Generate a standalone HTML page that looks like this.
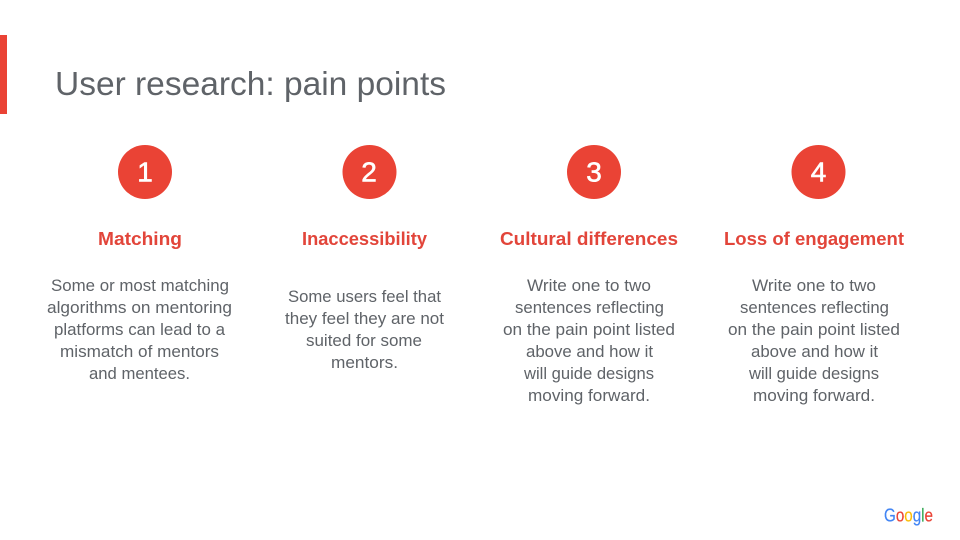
<!DOCTYPE html>
<html>
<head>
<meta charset="utf-8">
<style>
html,body{margin:0;padding:0;background:#fff;width:960px;height:540px;overflow:hidden}
svg{display:block}
text{font-family:"Liberation Sans",sans-serif}
.b{font-size:16.5px;fill:#5f6368}
.h{font-size:18.5px;font-weight:bold;fill:#e2453a}
.n{font-size:28px;fill:#fff;stroke:#fff;stroke-width:.6px;text-anchor:middle}
</style>
</head>
<body>
<svg width="960" height="540" viewBox="0 0 960 540" xmlns="http://www.w3.org/2000/svg">
<rect width="960" height="540" fill="#fff"/>
<rect x="0" y="35" width="7" height="79" fill="#ea4335"/>
<text x="55" y="95" font-size="33.5" fill="#5f6368" textLength="391" lengthAdjust="spacingAndGlyphs">User research: pain points</text>

<circle cx="145" cy="172" r="27" fill="#ea4335"/>
<circle cx="369.5" cy="172" r="27" fill="#ea4335"/>
<circle cx="594" cy="172" r="27" fill="#ea4335"/>
<circle cx="818.5" cy="172" r="27" fill="#ea4335"/>
<text class="n" x="145" y="181.5">1</text>
<text class="n" x="369" y="181.5">2</text>
<text class="n" x="594" y="181.5">3</text>
<text class="n" x="818.5" y="181.5">4</text>

<text class="h" x="98" y="245" textLength="84" lengthAdjust="spacingAndGlyphs">Matching</text>
<text class="h" x="302" y="245" textLength="125" lengthAdjust="spacingAndGlyphs">Inaccessibility</text>
<text class="h" x="500" y="245" textLength="178" lengthAdjust="spacingAndGlyphs">Cultural differences</text>
<text class="h" x="724" y="245" textLength="180" lengthAdjust="spacingAndGlyphs">Loss of engagement</text>

<text class="b" x="51" y="291" textLength="178" lengthAdjust="spacingAndGlyphs">Some or most matching</text>
<text class="b" x="47" y="313" textLength="185" lengthAdjust="spacingAndGlyphs">algorithms on mentoring</text>
<text class="b" x="54" y="335" textLength="171" lengthAdjust="spacingAndGlyphs">platforms can lead to a</text>
<text class="b" x="60" y="357" textLength="159" lengthAdjust="spacingAndGlyphs">mismatch of mentors</text>
<text class="b" x="89" y="379" textLength="101" lengthAdjust="spacingAndGlyphs">and mentees.</text>

<text class="b" x="288" y="302" textLength="153" lengthAdjust="spacingAndGlyphs">Some users feel that</text>
<text class="b" x="285" y="324" textLength="159" lengthAdjust="spacingAndGlyphs">they feel they are not</text>
<text class="b" x="306" y="346" textLength="116" lengthAdjust="spacingAndGlyphs">suited for some</text>
<text class="b" x="331" y="368" textLength="67" lengthAdjust="spacingAndGlyphs">mentors.</text>

<text class="b" x="527" y="291" textLength="124" lengthAdjust="spacingAndGlyphs">Write one to two</text>
<text class="b" x="515" y="313" textLength="149" lengthAdjust="spacingAndGlyphs">sentences reflecting</text>
<text class="b" x="503" y="335" textLength="172" lengthAdjust="spacingAndGlyphs">on the pain point listed</text>
<text class="b" x="526" y="357" textLength="127" lengthAdjust="spacingAndGlyphs">above and how it</text>
<text class="b" x="524" y="379" textLength="130" lengthAdjust="spacingAndGlyphs">will guide designs</text>
<text class="b" x="528" y="401" textLength="122" lengthAdjust="spacingAndGlyphs">moving forward.</text>

<text class="b" x="752" y="291" textLength="124" lengthAdjust="spacingAndGlyphs">Write one to two</text>
<text class="b" x="740" y="313" textLength="149" lengthAdjust="spacingAndGlyphs">sentences reflecting</text>
<text class="b" x="728" y="335" textLength="172" lengthAdjust="spacingAndGlyphs">on the pain point listed</text>
<text class="b" x="751" y="357" textLength="127" lengthAdjust="spacingAndGlyphs">above and how it</text>
<text class="b" x="749" y="379" textLength="130" lengthAdjust="spacingAndGlyphs">will guide designs</text>
<text class="b" x="753" y="401" textLength="122" lengthAdjust="spacingAndGlyphs">moving forward.</text>

<text x="884" y="521.5" font-size="18" stroke-width=".2" textLength="49" lengthAdjust="spacingAndGlyphs"><tspan fill="#4285f4" stroke="#4285f4">G</tspan><tspan fill="#ea4335" stroke="#ea4335">o</tspan><tspan fill="#fbbc05" stroke="#fbbc05">o</tspan><tspan fill="#4285f4" stroke="#4285f4">g</tspan><tspan fill="#34a853" stroke="#34a853">l</tspan><tspan fill="#ea4335" stroke="#ea4335">e</tspan></text>
</svg>
</body>
</html>
